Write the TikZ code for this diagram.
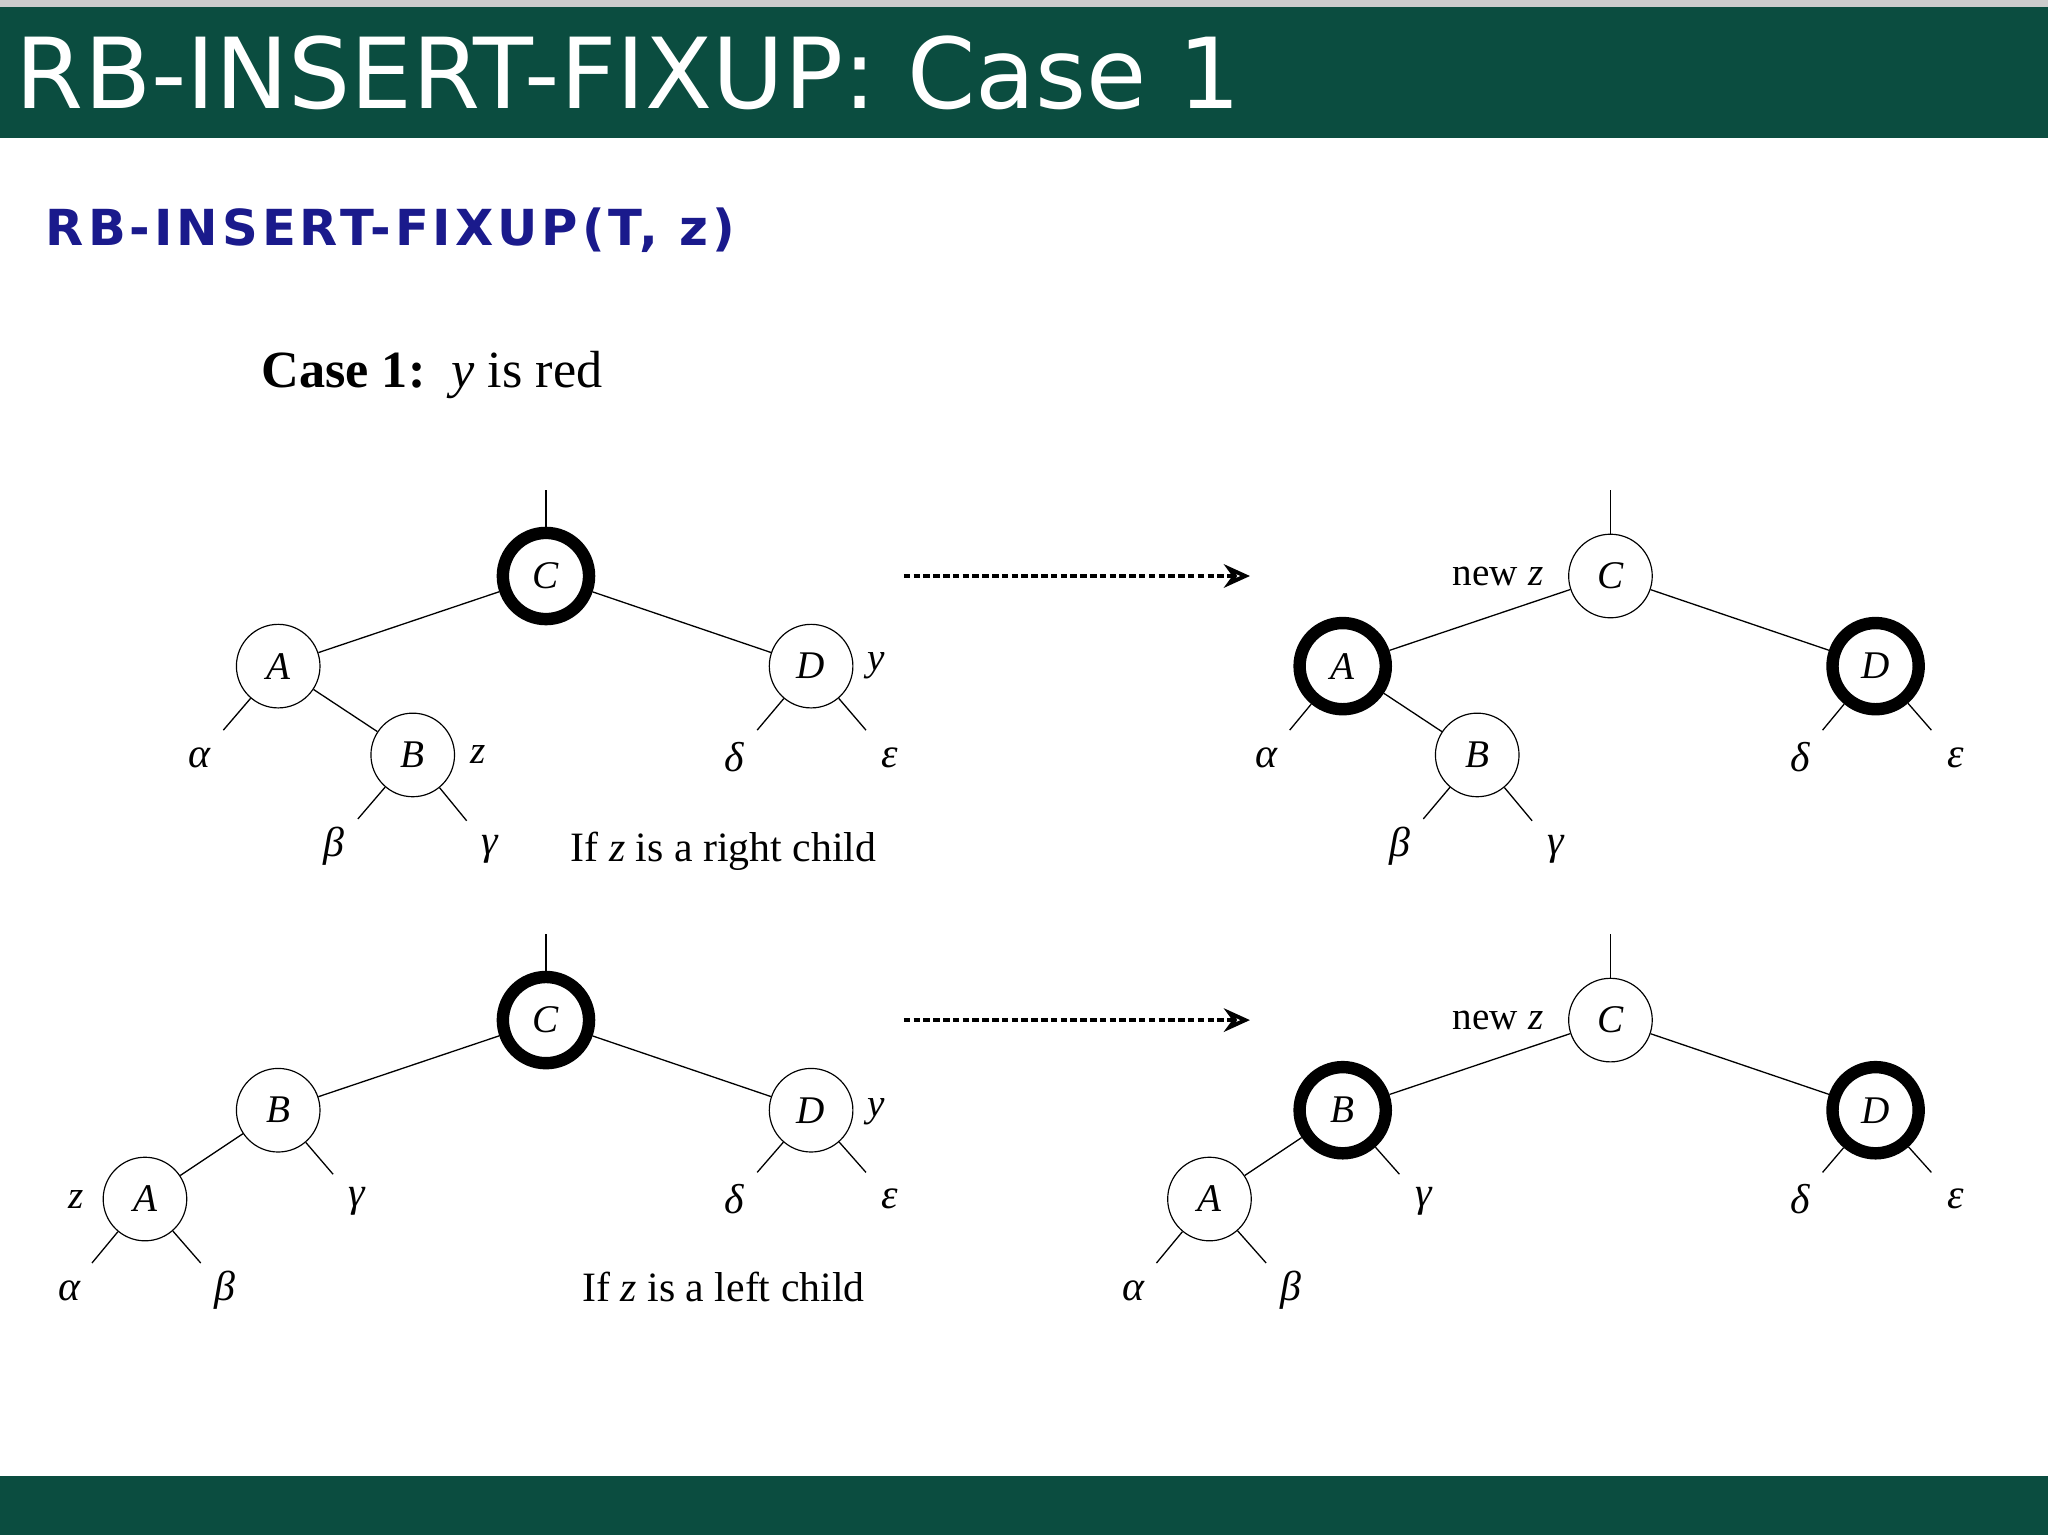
\documentclass[tikz,border=0pt]{standalone}
\usepackage{fontspec}
\setmainfont{Liberation Serif}
\newfontfamily\titlefont{DejaVu Sans}
\newfontfamily\subfont[LetterSpace=8]{DejaVu Sans Bold}
\usetikzlibrary{calc,arrows.meta}
\definecolor{band}{HTML}{0B4D40}
\definecolor{navy}{HTML}{1A1A8C}
\tikzset{
 nd/.style={circle,draw,line width=0.9pt,minimum size=64pt,inner sep=0pt,font=\fontsize{30}{30}\selectfont\itshape},
 bk/.style={nd,line width=9.5pt,minimum size=66pt},
 lf/.style={font=\fontsize{32}{32}\selectfont\itshape,inner sep=0pt},
 lb/.style={font=\fontsize{30}{30}\selectfont\itshape,inner sep=0pt},
 ed/.style={line width=1pt},
 arr/.style={line width=3pt,dash pattern=on 5pt off 2.5pt,-{Stealth[length=20pt,width=18pt,open]}},
}
\newcommand{\leaf}[2]{\draw[ed] (#1) -- ($(#1)!0.7!(#2)$);}
\begin{document}
\begin{tikzpicture}[x=1pt,y=-1pt]
\useasboundingbox (0,0) rectangle (1568,1175);
\fill[white] (0,0) rectangle (1568,1175);
\fill[gray!40] (0,0) rectangle (1568,5);
\fill[band] (0,5) rectangle (1568,106);
\fill[band] (0,1130) rectangle (1568,1175);
\node[anchor=west,text=white,font=\titlefont\fontsize{75}{75}\selectfont,inner sep=0pt] (title) at (12,56) {RB-INSERT-FIXUP: Case 1};
\node[anchor=west,text=navy,font=\subfont\fontsize{38}{38}\selectfont,inner sep=0pt] (sub) at (35,176) {RB-INSERT-FIXUP(T, z)};
\node[anchor=west,font=\fontsize{40}{40}\selectfont,inner sep=0pt] (case) at (200,287) {\textbf{Case 1:}\ \ \textit{y} is red};

% ---- top left
\node[bk] (C1) at (418,441) {C};
\node[nd] (A1) at (213,510) {A};
\node[nd] (B1) at (316,578) {B};
\node[nd] (D1) at (621,510) {D};
\node[lf] (a1) at (153,580) {α};
\node[lf] (b1) at (256,648) {β};
\node[lf] (g1) at (375,650) {γ};
\node[lf] (d1) at (562,580) {δ};
\node[lf] (e1) at (681,580) {ε};
\node[lb] (z1) at (366,578) {z};
\node[lb] (y1) at (671,510) {y};
\coordinate (r1) at (418,375);
\draw[ed] (C1) -- (r1);
\draw[ed] (C1) -- (A1); \draw[ed] (C1) -- (D1); \draw[ed] (A1) -- (B1);
\leaf{A1}{a1}\leaf{B1}{b1}\leaf{B1}{g1}\leaf{D1}{d1}\leaf{D1}{e1}
\node[font=\fontsize{32}{32}\selectfont,inner sep=0pt] (t1) at (554,652) {If \textit{z} is a right child};

% ---- top right
\node[nd] (C2) at (1233,441) {C};
\node[bk] (A2) at (1028,510) {A};
\node[nd] (B2) at (1131,578) {B};
\node[bk] (D2) at (1436,510) {D};
\node[lf] (a2) at (970,580) {α};
\node[lf] (b2) at (1072,648) {β};
\node[lf] (g2) at (1191,650) {γ};
\node[lf] (d2) at (1378,580) {δ};
\node[lf] (e2) at (1497,580) {ε};
\node[font=\fontsize{30}{30}\selectfont,inner sep=0pt] (nz2) at (1147,441) {new \textit{z}};
\coordinate (r2) at (1233,375);
\draw[ed] (C2) -- (r2);
\draw[ed] (C2) -- (A2); \draw[ed] (C2) -- (D2); \draw[ed] (A2) -- (B2);
\leaf{A2}{a2}\leaf{B2}{b2}\leaf{B2}{g2}\leaf{D2}{d2}\leaf{D2}{e2}

% ---- bottom left
\node[bk] (C3) at (418,781) {C};
\node[nd] (B3) at (213,850) {B};
\node[nd] (A3) at (111,918) {A};
\node[nd] (D3) at (621,850) {D};
\node[lf] (a3) at (53,988) {α};
\node[lf] (b3) at (172,988) {β};
\node[lf] (g3) at (273,920) {γ};
\node[lf] (d3) at (562,918) {δ};
\node[lf] (e3) at (681,918) {ε};
\node[lb] (z3) at (58,918) {z};
\node[lb] (y3) at (671,851) {y};
\coordinate (r3) at (418,715);
\draw[ed] (C3) -- (r3);
\draw[ed] (C3) -- (B3); \draw[ed] (C3) -- (D3); \draw[ed] (B3) -- (A3);
\leaf{A3}{a3}\leaf{A3}{b3}\leaf{B3}{g3}\leaf{D3}{d3}\leaf{D3}{e3}
\node[font=\fontsize{32}{32}\selectfont,inner sep=0pt] (t3) at (554,985) {If \textit{z} is a left child};

% ---- bottom right
\node[nd] (C4) at (1233,781) {C};
\node[bk] (B4) at (1028,850) {B};
\node[nd] (A4) at (926,918) {A};
\node[bk] (D4) at (1436,850) {D};
\node[lf] (a4) at (868,988) {α};
\node[lf] (b4) at (988,988) {β};
\node[lf] (g4) at (1090,920) {γ};
\node[lf] (d4) at (1378,918) {δ};
\node[lf] (e4) at (1497,918) {ε};
\node[font=\fontsize{30}{30}\selectfont,inner sep=0pt] (nz4) at (1147,781) {new \textit{z}};
\coordinate (r4) at (1233,715);
\draw[ed] (C4) -- (r4);
\draw[ed] (C4) -- (B4); \draw[ed] (C4) -- (D4); \draw[ed] (B4) -- (A4);
\leaf{A4}{a4}\leaf{A4}{b4}\leaf{B4}{g4}\leaf{D4}{d4}\leaf{D4}{e4}

% arrows
\coordinate (s1) at (692,441); \coordinate (f1) at (957,441);
\coordinate (s2) at (692,781); \coordinate (f2) at (957,781);
\draw[arr] (s1) -- (f1);
\draw[arr] (s2) -- (f2);
\end{tikzpicture}
\end{document}
